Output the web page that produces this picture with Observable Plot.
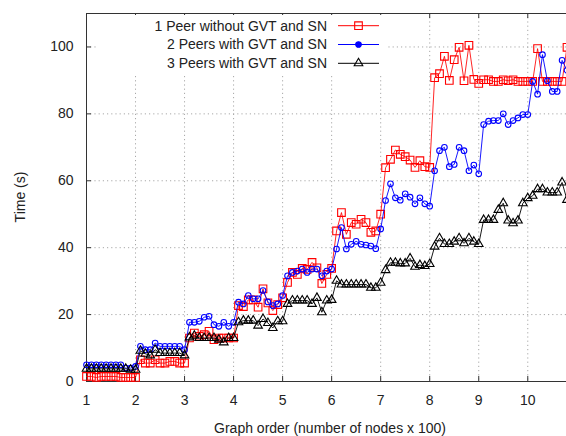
<!DOCTYPE html>
<html><head><meta charset="utf-8">
<script src="https://cdn.jsdelivr.net/npm/d3@7"></script>
<script src="https://cdn.jsdelivr.net/npm/@observablehq/plot@0.6"></script>
<style>html,body{margin:0;padding:0;background:#fff}svg{display:block}</style>
</head><body><div id="chart"></div>
<script>
const seriesNames = ["1 Peer without GVT and SN", "2 Peers with GVT and SN", "3 Peers with GVT and SN"];
const seriesColors = ["#ff0000", "#0000ff", "#000000"];
const seriesSymbols = ["square", "circle", "triangle"];

const nodes = [1.0,1.1,1.2,1.3,1.4,1.5,1.6,1.7,1.8,1.9,2.0,
  2.1,2.2,2.3,2.4,2.5,2.6,2.7,2.8,2.9,3.0,
  3.1,3.2,3.3,3.4,3.5,3.6,3.7,3.8,3.9,4.0,
  4.1,4.2,4.3,4.4,4.5,4.6,4.7,4.8,4.9,5.0,
  5.1,5.2,5.3,5.4,5.5,5.6,5.7,5.8,5.9,6.0,
  6.1,6.2,6.3,6.4,6.5,6.6,6.7,6.8,6.9,7.0,
  7.1,7.2,7.3,7.4,7.5,7.6,7.7,7.8,7.9,8.0,
  8.1,8.2,8.3,8.4,8.5,8.6,8.7,8.8,8.9,9.0,
  9.1,9.2,9.3,9.4,9.5,9.6,9.7,9.8,9.9,10.0,
  10.1,10.2,10.3,10.4,10.5,10.6,10.7,10.8];

const peer1 = [1.5,1.5,1.2,1.5,1.5,1.5,1.5,1.2,1.2,1.2,1.2,
  6.5,5.5,5.5,6.5,5.5,5.5,6,6,5.5,5.5,
  13,14.5,13.5,14,15,12.5,13,13,13,13,
  22.7,22.4,24.4,24.4,22.2,27.7,23.5,21.2,23,25,
  29.6,32.6,32,33.8,33.5,35.6,34,29.3,32,33.8,
  45,50.5,44,47.5,47,48.5,47.5,44.6,45,50,
  63.9,66.4,69.2,67.9,67.2,66.2,64,66,64.2,64,
  90.8,92,97.2,90,96.2,99.9,89.9,100.5,90.3,89.1,
  90.2,90.2,89.7,89.7,90.2,89.9,90.2,89.7,89.7,89.7,
  89.7,99.5,89.7,89.7,89.7,89.7,89.7,99.9];

const peer2 = [5,5,5,5,5,5,5,5,4,4,4.5,
  10.5,9.5,9.5,11.5,10.5,10.5,10.5,10.5,10.5,9.5,
  17.7,17.7,18,19.2,19.5,17,16.5,17.7,16.5,17.7,
  23.7,23.2,25.7,24.7,24.7,27.2,23.8,22.7,23.2,25.7,
  31.6,32.6,33,33.6,32.6,33.6,33.6,31.6,33,33.6,
  39.6,46,39.6,41,41.9,41,40.8,40.5,39.7,45.6,
  54.1,59.1,54.9,54.2,56.1,55.1,53.1,54.9,53.1,52.4,
  63,69,70,64.2,64.9,70,69,63,64.7,62.1,
  76.8,77.8,78,78,80,76.8,78,78.8,79.8,79.8,
  89.7,85.9,97.7,89.9,86.7,86.7,96,93];

const peer3 = [3.8,3.8,3.8,3.8,3.8,3.8,3.8,3.8,3.8,3.5,3.5,
  9.2,8.3,7.8,9.5,8.5,8.5,8.5,8.5,8.5,7.8,
  13.2,13.7,13,13,13,13,12.5,11.7,13,13,
  17.7,18.2,18.2,18.2,16.7,18.7,17.5,16,18,18,
  23.2,24.2,24.2,24.2,24.2,23.2,25,20.7,24.2,24.4,
  30.1,29,29,29,29,29,29,28,28,29.5,
  33.3,35.5,35.5,35.3,35.3,36.8,34.3,34.8,34.5,35.1,
  40.3,42.8,41.1,41.1,41.8,42.8,41.3,42.8,41.8,41.1,
  48.3,48.3,48.3,51.3,53.3,48.1,47.3,48.1,53.3,54.8,
  55.5,57.5,57.5,56.5,56.5,56.5,59.5,54.3];

const xTicks = [1,2,3,4,5,6,7,8,9,10];
const yTicks = [0,20,40,60,80,100];
const xDomain = [1, 10.79];
const yDomain = [0, 110];

const allSeries = [peer1, peer2, peer3];
const rows = [];
allSeries.forEach((vals, s) => vals.forEach((v, i) => rows.push({x: nodes[i], y: v, s: seriesNames[s]})));

const gridColor = "#a8a8a8";
const frameColor = "#333";
const lineMarks = [];
allSeries.forEach((vals, s) => {
  const d = rows.filter(r => r.s === seriesNames[s]);
  lineMarks.push(Plot.line(d, {x: "x", y: "y", stroke: seriesColors[s], strokeWidth: 1, strokeOpacity: s === 0 ? 0.85 : 0.9}));
  lineMarks.push(Plot.dot(d, {x: "x", y: "y", stroke: seriesColors[s], fill: "none", strokeWidth: 1.1,
    symbol: seriesSymbols[s], r: s === 0 ? 4.3 : (s === 1 ? 2.8 : 3.2)}));
});

const plot = Plot.plot({
  width: 566, height: 436,
  marginLeft: 86, marginRight: 0, marginTop: 13, marginBottom: 55,
  style: {fontFamily: "'Liberation Sans', Arial, sans-serif", fontSize: "14px", background: "#fff", color: "#222"},
  x: {domain: xDomain, ticks: xTicks, label: null},
  y: {domain: yDomain, ticks: yTicks, label: null},
  marks: [
    Plot.ruleX(xTicks.filter(d => d > 1), {stroke: gridColor, strokeDasharray: "1.2,3"}),
    Plot.ruleY(yTicks.filter(d => d > 0), {stroke: gridColor, strokeDasharray: "1.2,3"}),
    Plot.axisX(xTicks, {tickSize: 0, tickPadding: 14, fontSize: 14, fill: "#222"}),
    Plot.axisY(yTicks, {tickSize: 0, tickPadding: 13, fontSize: 14, fill: "#222"}),
    Plot.ruleX(xTicks, {y1: yDomain[0], y2: yDomain[0], insetTop: -5, stroke: frameColor}),
    Plot.ruleX(xTicks, {y1: yDomain[1], y2: yDomain[1], insetBottom: -5, stroke: frameColor}),
    Plot.ruleY(yTicks, {x1: xDomain[0], x2: xDomain[0], insetRight: -5, stroke: frameColor}),
    Plot.ruleX([xDomain[0]], {stroke: frameColor}),
    Plot.ruleY([yDomain[0]], {stroke: frameColor}),
    Plot.ruleY([yDomain[1]], {stroke: frameColor}),
    ...lineMarks
  ]
});

const svg = d3.select(plot);
// legend (opaque key box like gnuplot)
const key = svg.append("g").attr("class", "key");
key.append("rect").attr("x", 96).attr("y", 15).attr("width", 290).attr("height", 58).attr("fill", "#fff");
seriesNames.forEach((name, s) => {
  const cy = 25.7 + s * 18.8;
  key.append("text").attr("x", 327).attr("y", cy).attr("dy", "0.35em").attr("text-anchor", "end")
    .attr("font-family", "'Liberation Sans', Arial, sans-serif").attr("font-size", 14).attr("fill", "#222").text(name);
  key.append("line").attr("x1", 338).attr("x2", 379).attr("y1", cy).attr("y2", cy)
    .attr("stroke", seriesColors[s]).attr("stroke-width", 1);
  const sym = d3.symbol().type(s === 0 ? d3.symbolSquare : s === 1 ? d3.symbolCircle : d3.symbolTriangle)
    .size(s === 0 ? 58 : s === 1 ? 25 : 32);
  key.append("path").attr("d", sym()).attr("transform", `translate(358.5,${cy})`)
    .attr("fill", s === 1 ? seriesColors[s] : "none").attr("stroke", seriesColors[s]).attr("stroke-width", 1.1);
});
// move data above key? key sits above grid; data remains visible since it is not under the key
svg.append("text").attr("transform", "translate(20,197) rotate(-90)").attr("text-anchor", "middle").attr("dy", "0.35em")
  .attr("font-family", "'Liberation Sans', Arial, sans-serif").attr("font-size", 14).attr("fill", "#222").text("Time (s)");
svg.append("text").attr("x", 330).attr("y", 428).attr("text-anchor", "middle").attr("dy", "0.35em")
  .attr("font-family", "'Liberation Sans', Arial, sans-serif").attr("font-size", 14).attr("fill", "#222").text("Graph order (number of nodes x 100)");
document.getElementById("chart").appendChild(plot);
</script>
</body></html>
